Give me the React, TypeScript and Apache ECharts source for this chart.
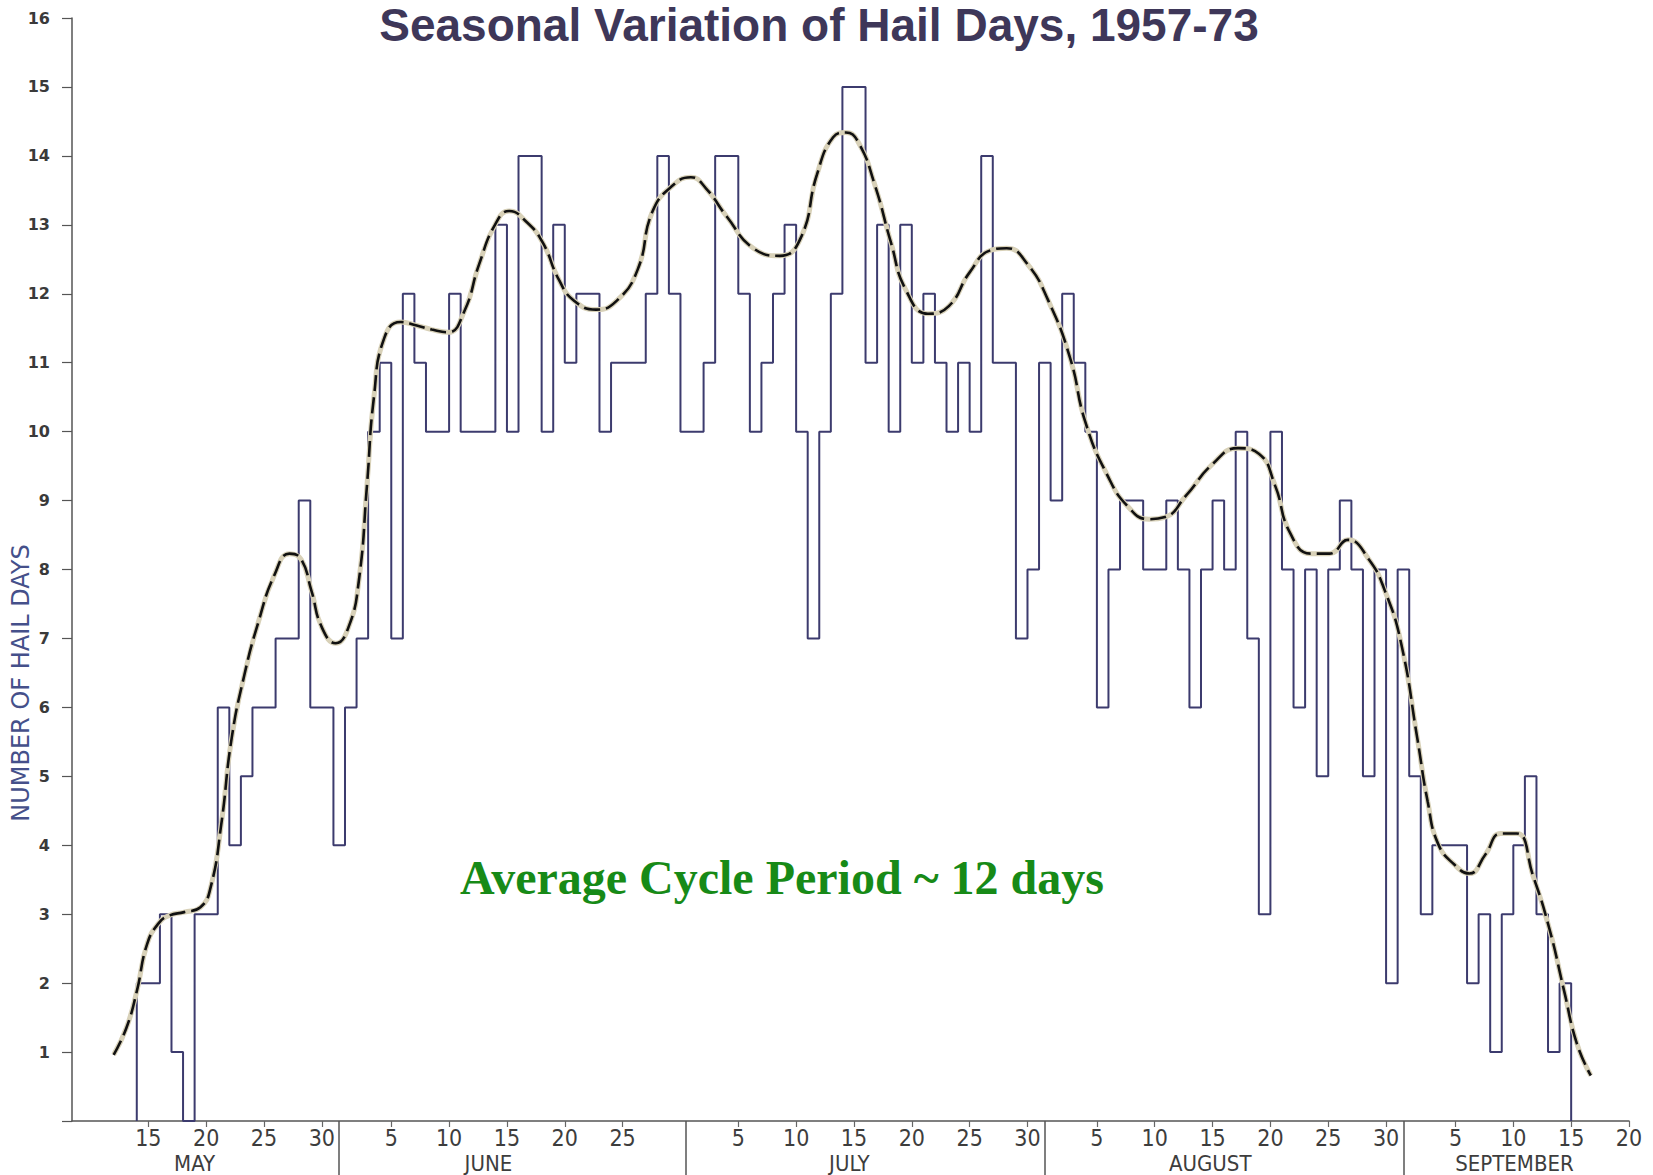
import React, { useEffect, useRef } from "react";
import * as echarts from "echarts";

// Day index along the x axis: May d = d, June d = 31 + d, July d = 61 + d, August d = 92 + d, September d = 123 + d
const MONTH_NAMES = ["MAY", "JUNE", "JULY", "AUGUST", "SEPTEMBER"];
const MONTH_OFFSETS = [0, 31, 61, 92, 123];

// Number of hail days for each calendar day (1957-73)
const MAY_VALUES = [2, 2, 3, 1, 0, 3, 3, 6, 4, 5, 6, 6, 7, 7, 9, 6, 6]; // May 15 - 31
const JUNE_VALUES = [4, 6, 7, 10, 11, 7, 12, 11, 10, 10, 12, 10, 10, 10, 13, 10, 14, 14, 10, 13, 11, 12, 12, 10, 11, 11, 11, 12, 14, 12];
const JULY_VALUES = [10, 10, 11, 14, 14, 12, 10, 11, 12, 13, 10, 7, 10, 12, 15, 15, 11, 13, 10, 13, 11, 12, 11, 10, 11, 10, 14, 11, 11, 7, 8];
const AUGUST_VALUES = [11, 9, 12, 11, 10, 6, 8, 9, 9, 8, 8, 9, 8, 6, 8, 9, 8, 10, 7, 3, 10, 8, 6, 8, 5, 8, 9, 8, 5, 8, 2];
const SEPTEMBER_VALUES = [8, 5, 3, 4, 4, 4, 2, 3, 1, 3, 4, 5, 3, 1, 2]; // Sep 1 - 15

// Smoothed curve (day index, value)
const CURVE_DAYS = [12.0, 13.1, 14.0, 14.9, 15.9, 16.8, 18.1, 19.5, 20.4, 21.3, 22.2, 23.3, 24.5, 25.9, 27.2, 28.2, 29.1, 30.0, 31.2, 32.3, 33.2, 33.9, 34.5, 35.4, 36.8, 38.2, 39.5, 40.9, 42.3, 43.6, 45.0, 46.2, 47.7, 49.1, 50.5, 51.8, 53.7, 55.5, 57.3, 58.6, 60.4, 61.9, 63.2, 65.0, 67.3, 69.6, 71.4, 72.8, 74.2, 75.3, 76.4, 77.8, 79.2, 80.5, 82.4, 84.2, 86.0, 87.8, 89.2, 91.0, 92.8, 94.7, 96.0, 97.9, 99.7, 101.5, 102.9, 104.7, 107.0, 109.2, 111.0, 112.4, 113.7, 115.5, 117.1, 118.7, 120.5, 121.9, 123.3, 124.7, 125.6, 126.5, 127.9, 129.2, 130.6, 131.9, 133.3, 134.7, 136.1, 137.4, 138.5, 139.7];
const CURVE_VALUES = [0.96, 1.35, 1.88, 2.57, 2.87, 2.98, 3.03, 3.1, 3.4, 4.3, 5.55, 6.47, 7.23, 7.92, 8.23, 8.15, 7.69, 7.16, 6.93, 7.16, 7.84, 9.22, 10.5, 11.36, 11.59, 11.54, 11.48, 11.44, 11.74, 12.43, 13.01, 13.2, 13.04, 12.74, 12.2, 11.9, 11.77, 11.9, 12.35, 13.2, 13.58, 13.69, 13.53, 13.12, 12.66, 12.55, 12.81, 13.73, 14.27, 14.34, 14.19, 13.58, 12.74, 12.05, 11.71, 11.82, 12.31, 12.63, 12.66, 12.43, 11.9, 11.06, 10.14, 9.37, 8.91, 8.73, 8.76, 9.07, 9.53, 9.76, 9.68, 9.22, 8.53, 8.23, 8.23, 8.43, 8.15, 7.69, 6.93, 5.55, 4.63, 4.02, 3.72, 3.59, 3.87, 4.17, 4.17, 3.56, 2.8, 1.88, 1.12, 0.66];

const X_TICK_DAYS = [15, 20, 25, 30, 36, 41, 46, 51, 56, 66, 71, 76, 81, 86, 91, 97, 102, 107, 112, 117, 122, 128, 133, 138, 143];
const MONTH_BOUNDARY_DAYS = [31.5, 61.5, 92.5, 123.5];
const MONTH_LABEL_DAYS = [19, 44.4, 75.6, 106.8, 133.1];

const TITLE = "Seasonal Variation of Hail Days, 1957-73";
const NOTE = "Average Cycle Period ~ 12 days";
const Y_NAME = "NUMBER OF HAIL DAYS";

function monthIndexOf(t: number): number {
  let m = 0;
  for (let i = 0; i < MONTH_OFFSETS.length; i++) if (t > MONTH_OFFSETS[i]) m = i;
  return m;
}

function buildDaily(): [number, number][] {
  const months = [
    { m: 0, start: 15, values: MAY_VALUES },
    { m: 1, start: 1, values: JUNE_VALUES },
    { m: 2, start: 1, values: JULY_VALUES },
    { m: 3, start: 1, values: AUGUST_VALUES },
    { m: 4, start: 1, values: SEPTEMBER_VALUES },
  ];
  const out: [number, number][] = [];
  months.forEach(({ m, start, values }) =>
    values.forEach((v, i) => out.push([MONTH_OFFSETS[m] + start + i, v]))
  );
  return out;
}

const NARROW = "'Liberation Sans Narrow', 'DejaVu Sans Condensed', 'Arial Narrow', sans-serif";

export default function App() {
  const ref = useRef<HTMLDivElement>(null);

  useEffect(() => {
    if (!ref.current) return;
    const chart = echarts.init(ref.current, undefined, { renderer: "svg" });
    const daily = buildDaily();
    // step "start": each day's value is drawn over the day interval ending at its tick
    const stepData: [number, number][] = [
      [daily[0][0] - 1, 0],
      ...daily,
      [daily[daily.length - 1][0], 0],
    ];
    const curve = CURVE_DAYS.map((d, i) => [d, CURVE_VALUES[i]]);

    const option: any = {
      animation: false,
      backgroundColor: "#ffffff",
      grid: {
        left: 72,
        right: 24,
        top: 18,
        bottom: 54,
        containLabel: false,
        outerBoundsMode: "none",
      },
      xAxis: [
        {
          type: "value",
          min: 8.4,
          max: 143,
          position: "bottom",
          axisLine: { show: true, onZero: false, lineStyle: { color: "#555", width: 1.5 } },
          splitLine: { show: false },
          axisTick: {
            show: true,
            customValues: X_TICK_DAYS,
            length: 6,
            lineStyle: { color: "#666", width: 1.2 },
          },
          axisLabel: {
            customValues: X_TICK_DAYS,
            formatter: (v: number) => String(Math.round(v - MONTH_OFFSETS[monthIndexOf(v)])),
            fontFamily: NARROW,
            fontSize: 23,
            color: "#3d3d3d",
            margin: 5,
          },
        },
        {
          type: "value",
          min: 8.4,
          max: 143,
          position: "bottom",
          offset: 0,
          axisLine: { show: false },
          splitLine: { show: false },
          axisTick: {
            show: true,
            customValues: MONTH_BOUNDARY_DAYS,
            length: 58,
            inside: false,
            lineStyle: { color: "#555", width: 1.5 },
          },
          axisLabel: {
            customValues: MONTH_LABEL_DAYS,
            formatter: (v: number) => MONTH_NAMES[monthIndexOf(v)],
            fontFamily: NARROW,
            fontSize: 22,
            color: "#3d3d3d",
            margin: 31,
          },
        },
      ],
      yAxis: {
        type: "value",
        min: 0,
        max: 16,
        interval: 1,
        axisLine: { show: true, lineStyle: { color: "#555", width: 1.5 } },
        axisTick: { show: true, length: 10, lineStyle: { color: "#555", width: 1.2 } },
        splitLine: { show: false },
        axisLabel: {
          formatter: (v: number) => (v === 0 ? "" : String(v)),
          fontFamily: "'DejaVu Sans', sans-serif",
          fontWeight: "bold",
          fontSize: 16,
          color: "#3a3a3a",
          margin: 22,
        },
      },
      series: [
        {
          type: "line",
          name: "daily",
          xAxisIndex: 0,
          data: stepData,
          step: "start",
          showSymbol: false,
          symbol: "none",
          lineStyle: { color: "#3c3b6e", width: 2 },
          z: 2,
        },
        {
          type: "line",
          name: "curve-under",
          xAxisIndex: 0,
          data: curve,
          smooth: 0.5,
          showSymbol: false,
          symbol: "none",
          lineStyle: { color: "#d8d1b8", width: 5 },
          z: 3,
        },
        {
          type: "line",
          name: "curve",
          xAxisIndex: 0,
          data: curve,
          smooth: 0.5,
          showSymbol: false,
          symbol: "none",
          lineStyle: { color: "#111111", width: 2.6, type: [16, 6] },
          z: 4,
        },
      ],
      graphic: [
        {
          type: "text",
          x: 819,
          y: 25,
          style: {
            text: TITLE,
            font: "bold 46px 'Liberation Sans', Arial, sans-serif",
            fill: "#3e3759",
            textAlign: "center",
            textVerticalAlign: "middle",
            align: "center",
            verticalAlign: "middle",
          },
        },
        {
          type: "text",
          x: 782,
          y: 877,
          style: {
            text: NOTE,
            font: "bold 48px 'Liberation Serif', 'Times New Roman', serif",
            fill: "#178a17",
            textAlign: "center",
            textVerticalAlign: "middle",
            align: "center",
            verticalAlign: "middle",
          },
        },
        {
          type: "text",
          x: 21,
          y: 683,
          rotation: Math.PI / 2,
          style: {
            text: Y_NAME,
            font: "24px 'DejaVu Sans', sans-serif",
            fill: "#45508a",
            textAlign: "center",
            textVerticalAlign: "middle",
            align: "center",
            verticalAlign: "middle",
          },
        },
      ],
    };

    chart.setOption(option);
    return () => chart.dispose();
  }, []);

  return (
    <div
      ref={ref}
      style={{ position: "absolute", left: 0, top: 0, width: 1653, height: 1175, background: "#fff" }}
    />
  );
}
